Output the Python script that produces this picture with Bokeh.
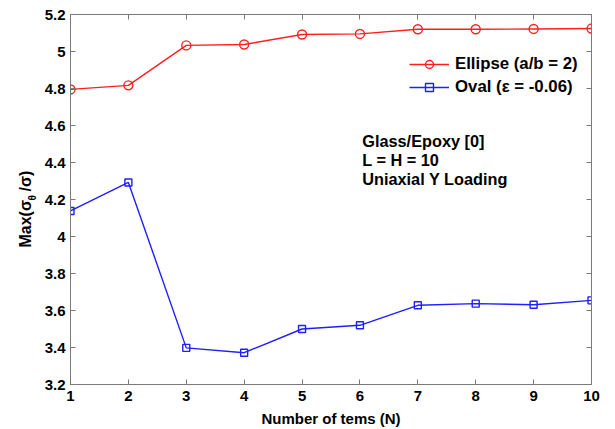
from bokeh.plotting import figure
from bokeh.layouts import row
from bokeh.models import Range1d, FixedTicker, LinearAxis, Label, CustomJSTickFormatter, Legend, LegendItem
from bokeh.embed import file_html
from bokeh.resources import INLINE
import math

n_terms = [1, 2, 3, 4, 5, 6, 7, 8, 9, 10]
ellipse = [4.795, 4.817, 5.033, 5.038, 5.092, 5.095, 5.120, 5.120, 5.122, 5.124]
oval = [4.138, 4.292, 3.398, 3.372, 3.500, 3.520, 3.628, 3.637, 3.631, 3.655]
x_ticks = [1, 2, 3, 4, 5, 6, 7, 8, 9, 10]
y_ticks = [3.2, 3.4, 3.6, 3.8, 4.0, 4.2, 4.4, 4.6, 4.8, 5.0, 5.2]
annotation_lines = ["Glass/Epoxy [0]", "L = H = 10", "Uniaxial Y Loading"]

FONT = "Liberation Sans"
GRAY = "#7a7a7a"
RED = "#ff1f1f"
BLUE = "#1f1fff"
LABW = 38

p = figure(width=615 - LABW, height=429, output_backend="svg", toolbar_location=None,
           x_range=Range1d(1, 10), y_range=Range1d(3.2, 5.2),
           min_border_left=70 - LABW, min_border_right=24, min_border_top=14, min_border_bottom=45)
p.grid.visible = False
p.outline_line_color = GRAY
p.outline_line_width = 1
p.background_fill_color = "white"
p.border_fill_color = "white"

fmt = CustomJSTickFormatter(code="return String(Number(tick.toFixed(1)));")

for ax in p.xaxis:
    ax.ticker = FixedTicker(ticks=x_ticks)
for ax in p.yaxis:
    ax.ticker = FixedTicker(ticks=y_ticks)
    ax.formatter = fmt

for ax in list(p.xaxis) + list(p.yaxis):
    ax.axis_line_color = GRAY
    ax.major_tick_line_color = GRAY
    ax.major_tick_in = 5
    ax.major_tick_out = 0
    ax.minor_tick_line_color = None
    ax.major_label_text_font = FONT
    ax.major_label_text_font_style = "bold"
    ax.major_label_text_font_size = "15px"
    ax.major_label_text_color = "black"

p.xaxis.major_label_standoff = 6
p.yaxis.major_label_standoff = 5
p.xaxis.axis_label = "Number of tems (N)"
p.xaxis.axis_label_text_font = FONT
p.xaxis.axis_label_text_font_style = "bold"
p.xaxis.axis_label_text_font_size = "15px"
p.xaxis.axis_label_text_color = "black"
p.xaxis.axis_label_standoff = 6

top = LinearAxis(ticker=FixedTicker(ticks=x_ticks), major_label_text_color=None,
                 axis_line_color=GRAY, major_tick_line_color=GRAY, major_tick_in=5,
                 major_tick_out=0, minor_tick_line_color=None, major_label_standoff=0)
right = LinearAxis(ticker=FixedTicker(ticks=y_ticks), major_label_text_color=None,
                   axis_line_color=GRAY, major_tick_line_color=GRAY, major_tick_in=5,
                   major_tick_out=0, minor_tick_line_color=None, major_label_standoff=0)
p.add_layout(top, "above")
p.add_layout(right, "right")

r1l = p.line(n_terms, ellipse, line_color=RED, line_width=1.4)
r1m = p.scatter(n_terms, ellipse, marker="circle", size=9, line_color=RED,
                fill_color=None, line_width=1.4)
r2l = p.line(n_terms, oval, line_color=BLUE, line_width=1.4)
r2m = p.scatter(n_terms, oval, marker="square", size=7, line_color=BLUE,
                fill_color=None, line_width=1.4)

legend = Legend(items=[LegendItem(label="Ellipse (a/b = 2)", renderers=[r1l, r1m]),
                       LegendItem(label="Oval (\u03b5 = -0.06)", renderers=[r2l, r2m])],
                location=(339, 287), padding=0, margin=0, spacing=3,
                glyph_width=40, glyph_height=20, label_height=20, label_standoff=6,
                border_line_alpha=0, background_fill_alpha=0,
                label_text_font=FONT, label_text_font_style="bold",
                label_text_font_size="16.8px", label_text_color="black")
p.add_layout(legend, "center")

for i, t in enumerate(annotation_lines):
    p.add_layout(Label(x=6.04, y=4.565 - i * 0.103, text=t, text_font=FONT,
                       text_font_style="bold", text_font_size="16.3px",
                       text_baseline="top", text_align="left", text_color="black"))

# y-axis title Max(σ_θ/σ) drawn in a narrow side figure; its frame is row-aligned
# with the main frame (top 14, bottom 384), screen y measured from frame bottom
lab = figure(width=LABW, height=429, output_backend="svg", toolbar_location=None,
             x_axis_location=None, y_axis_location=None,
             x_range=Range1d(0, LABW), y_range=Range1d(0, 370),
             min_border=0, outline_line_color=None)
lab.grid.visible = False
ang = math.pi / 2
common = dict(x_units="screen", y_units="screen", angle=ang, text_font=FONT,
              text_font_style="bold", text_color="black",
              text_align="left", text_baseline="alphabetic")
lab.add_layout(Label(x=25, y=137, text="Max(\u03c3", text_font_size="16px", **common))
lab.add_layout(Label(x=32, y=184, text="\u03b8", text_font_size="10px", **common))
lab.add_layout(Label(x=25, y=193, text="/\u03c3)", text_font_size="16px", **common))

layout = row(lab, p)
open("out.html", "w").write(file_html(layout, INLINE))
